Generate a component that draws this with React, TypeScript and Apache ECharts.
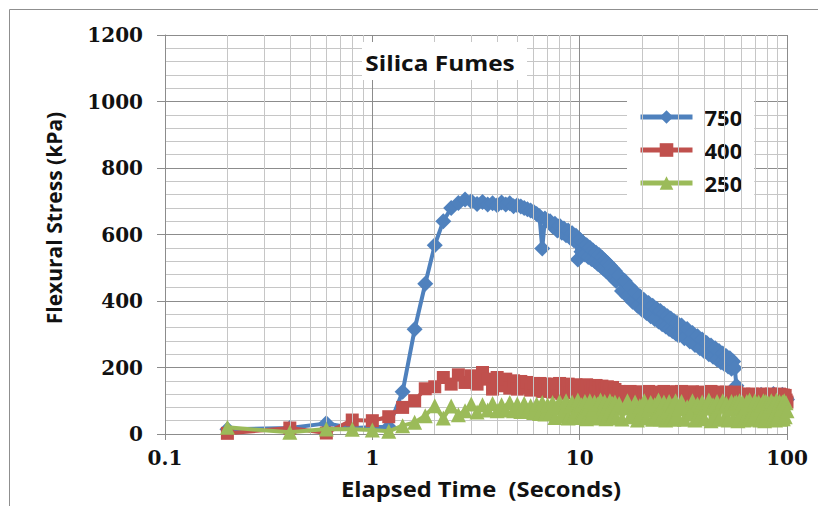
import { useEffect, useRef } from 'react';
import * as echarts from 'echarts';

// Elapsed time (s)
const time = [
  // 0.2 .. 7.0
  0.2, 0.4, 0.6, 0.8, 1.0, 1.2, 1.4, 1.6, 1.8, 2.0, 2.2, 2.4, 2.6, 2.8, 3.0, 3.2, 3.4, 3.6, 3.8, 4.0,
  4.2, 4.4, 4.6, 4.8, 5.0, 5.2, 5.4, 5.6, 5.8, 6.0, 6.2, 6.4, 6.6, 6.8, 7.0,
  // 7.2 .. 15.0
  7.2, 7.4, 7.6, 7.8, 8.0, 8.2, 8.4, 8.6, 8.8, 9.0, 9.2, 9.4, 9.6, 9.8, 10.0, 10.2, 10.4, 10.6, 10.8, 11.0,
  11.2, 11.4, 11.6, 11.8, 12.0, 12.2, 12.4, 12.6, 12.8, 13.0, 13.2, 13.4, 13.6, 13.8, 14.0, 14.2, 14.4, 14.6, 14.8, 15.0,
  // 15.5 .. 30
  15.5, 16, 16.5, 17, 17.5, 18, 18.5, 19, 19.5, 20, 20.5, 21, 21.5, 22, 22.5, 23, 23.5, 24, 24.5, 25,
  25.5, 26, 26.5, 27, 27.5, 28, 28.5, 29, 29.5, 30,
  // 31 .. 56
  31, 32, 33, 34, 35, 36, 37, 38, 39, 40, 41, 42, 43, 44, 45, 46, 47, 48, 49, 50, 51, 52, 53, 54, 55, 56,
  57,
  // 58 .. 100
  58, 59, 60, 61, 62, 63, 64, 65, 66, 67, 68, 69, 70, 71, 72, 73, 74, 75, 76, 77,
  78, 79, 80, 81, 82, 83, 84, 85, 86, 87, 88, 89, 90, 91, 92, 93, 94, 95, 96, 97, 98, 99, 100,
];

// Flexural stress (kPa) for each series
const stress750 = [
  14, 18, 32, 18, 20, 22, 127, 315, 452, 568, 640, 680, 695, 705, 700, 692, 698, 690, 694, 688,
  696, 690, 694, 685, 688, 684, 680, 676, 672, 668, 662, 655, 558, 648, 642,
  640, 625, 632, 612, 626, 605, 618, 598, 612, 590, 604, 582, 596, 525, 585, 548, 575, 540, 568, 532,
  560, 526, 552, 520, 545, 512, 538, 505, 530, 498, 522, 490, 514, 484, 506, 476, 498, 468, 490, 460,
  476, 430, 460, 414, 442, 398, 426, 386, 414, 374, 402, 364, 394, 354, 386, 346, 377, 338, 370, 330,
  362, 323, 354, 316, 347, 310, 340, 303, 334, 296,
  326, 288, 316, 278, 304, 268, 294, 258, 284, 248, 274, 240, 266, 232, 258, 224, 250, 216, 242, 210, 234, 203, 228, 196, 218, 198,
  145,
  108, 104, 110, 106, 112, 104, 108, 102, 110, 106, 112, 108, 108, 104, 110, 106, 112, 118, 108, 104,
  110, 106, 112, 108, 108, 104, 110, 106, 120, 108, 108, 104, 110, 106, 112, 108, 108, 118, 110, 106, 112, 108, 104,
];
const stress400 = [
  2, 18, 3, 42, 40, 52, 80, 100, 136, 142, 170, 150, 178, 155, 175, 150, 185, 165, 135, 170,
  145, 165, 138, 160, 135, 158, 140, 155, 132, 152, 135, 152, 128, 150, 132,
  150, 126, 146, 132, 152, 122, 144, 130, 150, 124, 142, 128, 148, 120, 146, 130, 140, 124, 148, 122,
  144, 128, 140, 120, 146, 126, 138, 122, 144, 128, 136, 120, 142, 124, 138, 118, 140, 126, 134, 120,
  128, 110, 124, 114, 128, 108, 122, 116, 127, 110, 124, 112, 128, 108, 122, 114, 126, 110, 124, 112,
  128, 108, 122, 114, 126, 110, 124, 112, 127, 110,
  128, 110, 124, 114, 127, 108, 122, 116, 126, 110, 124, 112, 128, 108, 122, 114, 126, 110, 124, 112, 126, 108, 122, 114, 125, 112,
  126,
  120, 106, 118, 108, 120, 104, 119, 106, 118, 108, 120, 104, 118, 106, 119, 108, 118, 104, 120, 106,
  118, 108, 119, 104, 118, 106, 120, 108, 118, 104, 119, 106, 118, 108, 120, 104, 118, 106, 117, 104, 116, 102, 96,
];
const stress250 = [
  20, 5, 15, 14, 12, 8, 25, 35, 55, 85, 48, 84, 58, 70, 90, 66, 88, 72, 92, 70,
  88, 72, 95, 70, 90, 68, 92, 70, 85, 65, 90, 62, 95, 60, 88,
  62, 95, 50, 80, 98, 55, 72, 100, 48, 85, 96, 58, 70, 102, 50, 88, 62, 98, 46, 80,
  100, 55, 75, 96, 48, 90, 60, 102, 52, 78, 98, 46, 85, 64, 100, 50, 92, 58, 96, 48,
  92, 45, 78, 100, 52, 68, 96, 42, 85, 60, 100, 48, 74, 95, 44, 88, 58, 102, 46, 80,
  96, 42, 70, 98, 50, 86, 44, 100, 56, 76,
  98, 44, 82, 60, 100, 42, 90, 52, 96, 46, 78, 102, 40, 88, 58, 98, 44, 84, 100, 48, 92, 42, 76, 98, 46, 94,
  96,
  40, 100, 62, 95, 42, 80, 98, 48, 102, 55, 44, 90, 100, 46, 76, 96, 42, 88, 58, 100,
  40, 98, 66, 94, 44, 84, 100, 46, 92, 60, 42, 102, 50, 88, 98, 44, 76, 96, 46, 100, 52, 94, 70,
];

const seriesNames = ['750', '400', '250'];
const seriesValues = [stress750, stress400, stress250];
const seriesColors = ['#4F81BD', '#C0504D', '#9BBB59'];
const seriesSymbols = ['diamond', 'rect', 'triangle'];
const seriesSymbolSizes = [16, 13, 15];

// Minor log gridlines (2..9 of each decade)
const xMinorGrid = [
  0.2, 0.3, 0.4, 0.5, 0.6, 0.7, 0.8, 0.9,
  2, 3, 4, 5, 6, 7, 8, 9,
  20, 30, 40, 50, 60, 70, 80, 90,
];

const chartTitle = 'Silica Fumes';
const xTitle = 'Elapsed Time  (Seconds)';
const yTitle = 'Flexural Stress (kPa)';

const MAJOR = '#8c8c8c';
const MINOR = '#c6c6c6';
const SANS = '"Open Sans", "Liberation Sans", sans-serif';
const SERIF = '"DejaVu Serif", "Liberation Serif", serif';

export default function App() {
  const ref = useRef<HTMLDivElement>(null);
  useEffect(() => {
    const chart = echarts.init(ref.current!, null, { renderer: 'svg' });
    const mainSeries = seriesNames.map((name, k) => ({
      name,
      type: 'line',
      data: time.map((t, i) => [t, seriesValues[k][i]]),
      symbol: seriesSymbols[k],
      symbolSize: seriesSymbolSizes[k],
      color: seriesColors[k],
      itemStyle: { color: seriesColors[k] },
      lineStyle: { color: seriesColors[k], width: 4 },
      z: 3 + k,
      silent: true,
    }));
    chart.setOption({
      animation: false,
      backgroundColor: '#ffffff',
      grid: { left: 165, right: 31, top: 35, bottom: 72 },
      xAxis: {
        type: 'log',
        logBase: 10,
        min: 0.1,
        max: 100,
        axisLine: { show: true, lineStyle: { color: MAJOR, width: 1 } },
        axisTick: { show: true, length: 6, lineStyle: { color: MAJOR } },
        axisLabel: {
          margin: 14,
          fontFamily: SERIF,
          fontWeight: 'bold',
          fontSize: 20,
          color: '#111',
          formatter: (v: number) => String(Number(v.toPrecision(3))),
        },
        splitLine: { show: true, lineStyle: { color: MAJOR, width: 1 } },
        minorTick: { show: false },
        minorSplitLine: { show: false },
      },
      yAxis: {
        type: 'value',
        min: 0,
        max: 1200,
        interval: 200,
        axisLine: { show: true, lineStyle: { color: MAJOR, width: 1 } },
        axisTick: { show: true, length: 8, lineStyle: { color: MAJOR } },
        axisLabel: {
          margin: 22,
          fontFamily: SERIF,
          fontWeight: 'bold',
          fontSize: 20,
          color: '#111',
          formatter: (v: number) => String(v),
        },
        splitLine: { show: true, lineStyle: { color: MAJOR, width: 1 } },
        minorTick: { show: false, splitNumber: 5 },
        minorSplitLine: { show: true, lineStyle: { color: MINOR, width: 1 } },
      },
      legend: {
        data: seriesNames,
        orient: 'vertical',
        left: 627,
        top: 100,
        backgroundColor: '#ffffff',
        padding: [6, 12, 6, 11],
        itemWidth: 52,
        itemHeight: 17,
        itemGap: 11,
        selectedMode: false,
        lineStyle: { width: 5 },
        textStyle: {
          fontFamily: SANS,
          fontWeight: 'bold',
          fontSize: 22,
          color: '#111',
          padding: [0, 0, 0, 7],
        },
      },
      series: [
        {
          type: 'line',
          data: [],
          silent: true,
          z: 1,
          markLine: {
            silent: true,
            symbol: ['none', 'none'],
            label: { show: false },
            lineStyle: { color: MINOR, width: 1, type: 'solid' },
            emphasis: { disabled: true },
            data: xMinorGrid.map((v) => ({ xAxis: v })),
          },
        },
        ...mainSeries,
      ],
      graphic: [
        {
          type: 'rect',
          silent: true,
          z: 0,
          shape: { x: 9.5, y: 9.5, width: 900, height: 600 },
          style: { fill: 'none', stroke: '#8f8f8f', lineWidth: 1 },
        },
        {
          type: 'rect',
          silent: true,
          z: 100,
          shape: { x: 362, y: 42, width: 165, height: 38 },
          style: { fill: '#ffffff' },
        },
        {
          type: 'text',
          silent: true,
          z: 101,
          x: 440,
          y: 62,
          scaleX: 1.11,
          style: {
            text: chartTitle,
            fontFamily: SANS,
            fontWeight: 'bold',
            fontSize: 22,
            fill: '#111',
            align: 'center',
            verticalAlign: 'middle',
          },
        },
        {
          type: 'text',
          silent: true,
          z: 101,
          x: 481,
          y: 489,
          scaleX: 1.08,
          style: {
            text: xTitle,
            fontFamily: SANS,
            fontWeight: 'bold',
            fontSize: 22,
            fill: '#111',
            align: 'center',
            verticalAlign: 'middle',
          },
        },
        {
          type: 'text',
          silent: true,
          z: 101,
          x: 54,
          y: 218,
          rotation: Math.PI / 2,
          style: {
            text: yTitle,
            fontFamily: SANS,
            fontWeight: 'bold',
            fontSize: 21,
            fill: '#111',
            align: 'center',
            verticalAlign: 'middle',
          },
        },
      ],
    });
    return () => chart.dispose();
  }, []);
  return (
    <div
      ref={ref}
      style={{ position: 'absolute', left: 0, top: 0, width: 818, height: 506 }}
    />
  );
}
